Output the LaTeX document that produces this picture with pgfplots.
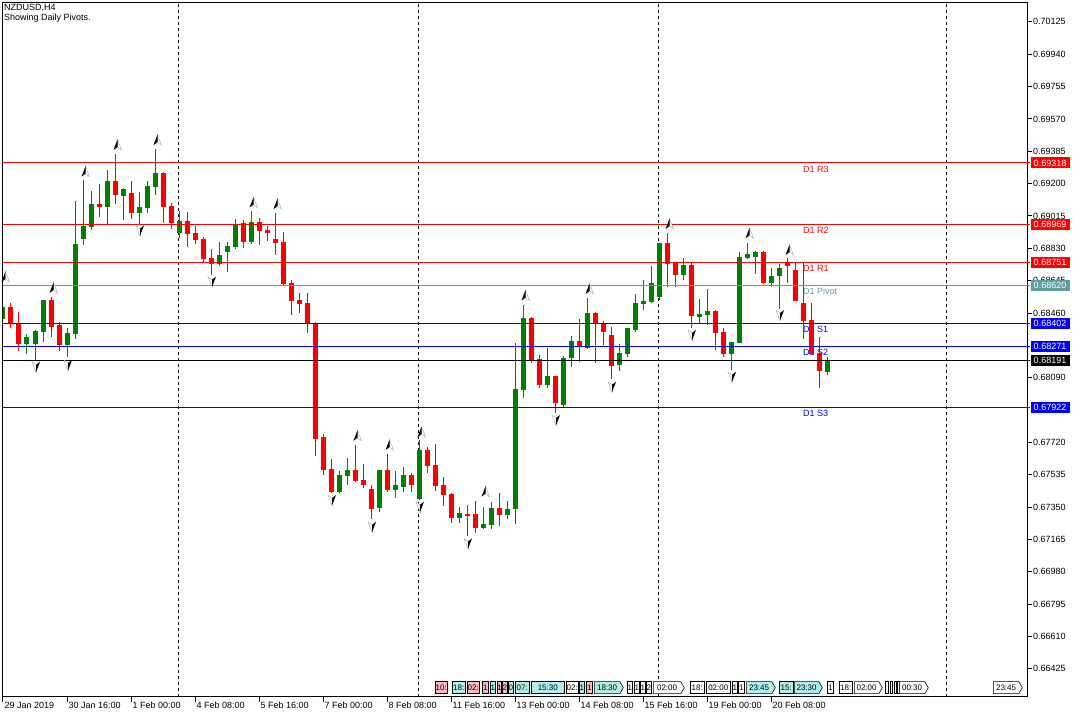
\documentclass[border=0pt]{standalone}
\usepackage{fontspec}
\setmainfont{Liberation Sans}
\usepackage{pgfplots}
\pgfplotsset{compat=1.18}
\usepackage{pgfplotstable}
\usetikzlibrary{shapes.symbols}

\definecolor{mtgreen}{RGB}{0,128,0}
\definecolor{mtred}{RGB}{255,0,0}
\definecolor{pivotc}{RGB}{95,158,160}
\definecolor{mtblue}{RGB}{0,0,255}
\definecolor{evpink}{RGB}{255,182,193}
\definecolor{evcyan}{RGB}{175,238,238}
\newcommand\mtfont{\fontsize{9}{10.5}\selectfont}

% fractal arrows
\pgfdeclareplotmark{fup}{%
  \pgfsetlinewidth{0.5pt}\pgfsetstrokecolor{gray!60}\pgfsetfillcolor{white}%
  \pgfpathmoveto{\pgfpoint{2.5pt}{5.5pt}}\pgfpathlineto{\pgfpoint{6.5pt}{-5pt}}%
  \pgfpathlineto{\pgfpoint{2.5pt}{-2pt}}\pgfpathclose\pgfusepath{fill,stroke}%
  \pgfsetfillcolor{black}%
  \pgfpathmoveto{\pgfpoint{2.5pt}{5.5pt}}\pgfpathlineto{\pgfpoint{-1.5pt}{-5pt}}%
  \pgfpathlineto{\pgfpoint{2.5pt}{-2pt}}\pgfpathclose\pgfusepath{fill}}
\pgfdeclareplotmark{fdown}{%
  \pgfsetlinewidth{0.5pt}\pgfsetstrokecolor{gray!60}\pgfsetfillcolor{white}%
  \pgfpathmoveto{\pgfpoint{1pt}{-5.5pt}}\pgfpathlineto{\pgfpoint{-3pt}{5pt}}%
  \pgfpathlineto{\pgfpoint{1pt}{2pt}}\pgfpathclose\pgfusepath{fill,stroke}%
  \pgfsetfillcolor{black}%
  \pgfpathmoveto{\pgfpoint{1pt}{-5.5pt}}\pgfpathlineto{\pgfpoint{5pt}{5pt}}%
  \pgfpathlineto{\pgfpoint{1pt}{2pt}}\pgfpathclose\pgfusepath{fill}}

% H4 bars, x = bar number
\pgfplotstableread{
x o h l c
0 0.68424 0.68505 0.68414 0.68496
3 0.68282 0.68340 0.68225 0.68324
4 0.68282 0.68362 0.68191 0.68357
5 0.68353 0.68536 0.68296 0.68534
8 0.68277 0.68372 0.68210 0.68344
9 0.68340 0.69100 0.68311 0.68854
10 0.68883 0.69220 0.68849 0.68959
11 0.68953 0.69158 0.68934 0.69083
13 0.69068 0.69278 0.68963 0.69215
15 0.69131 0.69176 0.68992 0.69169
17 0.69033 0.69154 0.68969 0.69064
18 0.69062 0.69215 0.69030 0.69186
19 0.69182 0.69398 0.69135 0.69262
22 0.68919 0.69043 0.68887 0.68986
27 0.68738 0.68864 0.68730 0.68791
28 0.68810 0.68864 0.68696 0.68843
29 0.68839 0.68997 0.68826 0.68969
31 0.68868 0.69045 0.68854 0.68982
42 0.67438 0.67556 0.67433 0.67533
43 0.67527 0.67629 0.67476 0.67562
47 0.67346 0.67565 0.67320 0.67562
49 0.67447 0.67556 0.67403 0.67476
50 0.67466 0.67577 0.67438 0.67533
52 0.67396 0.67733 0.67390 0.67676
57 0.67285 0.67348 0.67260 0.67314
60 0.67232 0.67348 0.67222 0.67251
61 0.67247 0.67377 0.67222 0.67343
63 0.67304 0.67384 0.67280 0.67337
64 0.67337 0.68286 0.67251 0.68025
65 0.68019 0.68505 0.67972 0.68433
68 0.68048 0.68258 0.68029 0.68099
70 0.67933 0.68214 0.67915 0.68201
71 0.68201 0.68328 0.68152 0.68299
73 0.68261 0.68547 0.68257 0.68458
77 0.68162 0.68281 0.68130 0.68233
78 0.68225 0.68376 0.68210 0.68372
79 0.68362 0.68568 0.68353 0.68519
80 0.68511 0.68648 0.68477 0.68530
81 0.68524 0.68730 0.68515 0.68633
82 0.68549 0.68863 0.68534 0.68858
85 0.68677 0.68776 0.68648 0.68734
87 0.68439 0.68540 0.68404 0.68452
88 0.68448 0.68595 0.68391 0.68471
91 0.68225 0.68297 0.68134 0.68296
92 0.68290 0.68810 0.68288 0.68782
93 0.68776 0.68862 0.68767 0.68797
94 0.68782 0.68813 0.68683 0.68810
96 0.68633 0.68715 0.68607 0.68671
97 0.68671 0.68740 0.68483 0.68719
103 0.68122 0.68210 0.68108 0.68191
}\upbars

\pgfplotstableread{
x o h l c
1 0.68496 0.68515 0.68372 0.68395
2 0.68401 0.68467 0.68244 0.68282
6 0.68534 0.68553 0.68324 0.68381
7 0.68391 0.68406 0.68244 0.68277
12 0.69083 0.69198 0.69007 0.69068
14 0.69215 0.69369 0.69083 0.69135
16 0.69148 0.69215 0.68997 0.69033
20 0.69262 0.69269 0.68976 0.69068
21 0.69072 0.69091 0.68938 0.68976
23 0.68986 0.69039 0.68839 0.68912
24 0.68919 0.68957 0.68854 0.68877
25 0.68883 0.68892 0.68747 0.68769
26 0.68773 0.68824 0.68677 0.68740
30 0.68974 0.68992 0.68831 0.68866
32 0.68982 0.69001 0.68849 0.68930
33 0.68934 0.68957 0.68873 0.68916
34 0.68883 0.69033 0.68791 0.68862
35 0.68868 0.68925 0.68620 0.68626
36 0.68630 0.68648 0.68448 0.68530
37 0.68534 0.68572 0.68461 0.68511
38 0.68519 0.68572 0.68344 0.68401
39 0.68401 0.68408 0.67643 0.67739
40 0.67749 0.67768 0.67533 0.67562
41 0.67567 0.67625 0.67428 0.67434
44 0.67562 0.67705 0.67496 0.67499
45 0.67504 0.67596 0.67457 0.67474
46 0.67453 0.67476 0.67281 0.67339
48 0.67562 0.67653 0.67438 0.67447
51 0.67533 0.67543 0.67438 0.67476
53 0.67676 0.67691 0.67543 0.67586
54 0.67590 0.67710 0.67443 0.67472
55 0.67476 0.67520 0.67357 0.67419
56 0.67424 0.67430 0.67260 0.67285
58 0.67310 0.67361 0.67184 0.67300
59 0.67310 0.67386 0.67203 0.67232
62 0.67343 0.67428 0.67243 0.67304
66 0.68433 0.68439 0.68172 0.68191
67 0.68197 0.68219 0.68032 0.68048
69 0.68099 0.68101 0.67889 0.67945
72 0.68299 0.68425 0.68181 0.68273
74 0.68461 0.68467 0.68175 0.68404
75 0.68401 0.68416 0.68277 0.68353
76 0.68334 0.68381 0.68080 0.68158
83 0.68858 0.68919 0.68607 0.68740
84 0.68744 0.68753 0.68607 0.68677
86 0.68734 0.68744 0.68376 0.68442
89 0.68471 0.68477 0.68248 0.68347
90 0.68353 0.68372 0.68210 0.68225
95 0.68810 0.68813 0.68628 0.68630
98 0.68746 0.68774 0.68631 0.68729
99 0.68706 0.68753 0.68528 0.68530
100 0.68519 0.68753 0.68309 0.68416
101 0.68420 0.68515 0.68222 0.68225
102 0.68229 0.68321 0.68032 0.68130
}\downbars

\begin{document}
\begin{tikzpicture}
\useasboundingbox (0,0) rectangle (1080pt,720pt);
\begin{axis}[
  at={(3pt,23pt)}, anchor=south west,
  scale only axis, width=1024pt, height=694pt,
  xmin=0, xmax=128, ymin=0.66264, ymax=0.70233,
  axis line style={line width=1pt},
  every tick/.style={black, line width=1pt},
  tick align=outside, major tick length=5pt,
  xtick pos=bottom, ytick pos=right, yticklabel pos=right,
  xtick={0,8,...,96},
  xticklabels={29 Jan 2019,30 Jan 16:00,1 Feb 00:00,4 Feb 08:00,5 Feb 16:00,
    7 Feb 00:00,8 Feb 08:00,11 Feb 16:00,13 Feb 00:00,14 Feb 08:00,
    15 Feb 16:00,19 Feb 00:00,20 Feb 08:00},
  xticklabel style={font=\mtfont, anchor=north west, inner sep=0pt, xshift=1.5pt},
  ytick={0.66425,0.66610,0.66795,0.66980,0.67165,0.67350,0.67535,0.67720,
    0.68090,0.68460,0.68645,0.68830,0.69015,0.69200,
    0.69385,0.69570,0.69755,0.69940,0.70125},
  scaled y ticks=false,
  yticklabel style={font=\mtfont, inner sep=1pt,
    /pgf/number format/.cd, fixed, fixed zerofill, precision=5, assume math mode=true},
  extra x ticks={21.9,51.9,81.9,117.9},
  extra x tick labels={},
  extra x tick style={major tick length=0pt, grid=major,
    major grid style={black, line width=1pt, dash pattern=on 3pt off 3pt}},
]
% level captions
\node[anchor=base west, inner sep=0pt, font=\mtfont, text=mtred, yshift=-9.5pt] at (axis cs:100,0.69318) {D1 R3};
\node[anchor=base west, inner sep=0pt, font=\mtfont, text=mtred, yshift=-9.5pt] at (axis cs:100,0.68969) {D1 R2};
\node[anchor=base west, inner sep=0pt, font=\mtfont, text=mtred, yshift=-9.5pt] at (axis cs:100,0.68751) {D1 R1};
\node[anchor=base west, inner sep=0pt, font=\mtfont, text=pivotc, yshift=-9.5pt] at (axis cs:100,0.68620) {D1 Pivot};
\node[anchor=base west, inner sep=0pt, font=\mtfont, text=mtblue, yshift=-9.5pt] at (axis cs:100,0.68402) {D1 S1};
\node[anchor=base west, inner sep=0pt, font=\mtfont, text=mtblue, yshift=-9.5pt] at (axis cs:100,0.68271) {D1 S2};
\node[anchor=base west, inner sep=0pt, font=\mtfont, text=mtblue, yshift=-9.5pt] at (axis cs:100,0.67922) {D1 S3};

% wicks
\addplot[draw=none, mark=none, error bars/.cd, y dir=plus, y explicit, error mark=none,
  error bar style={draw=mtgreen, line width=1pt}]
  table[x=x, y=l, y error expr=\thisrow{h}-\thisrow{l}] {\upbars};
\addplot[draw=none, mark=none, error bars/.cd, y dir=plus, y explicit, error mark=none,
  error bar style={draw=mtred, line width=1pt}]
  table[x=x, y=l, y error expr=\thisrow{h}-\thisrow{l}] {\downbars};
% bodies
\addplot[draw=none, mark=none, error bars/.cd, y dir=plus, y explicit, error mark=none,
  error bar style={draw=mtgreen, line width=5pt}]
  table[x=x, y=o, y error expr=\thisrow{c}-\thisrow{o}] {\upbars};
\addplot[draw=none, mark=none, error bars/.cd, y dir=plus, y explicit, error mark=none,
  error bar style={draw=mtred, line width=5pt}]
  table[x=x, y=c, y error expr=\thisrow{o}-\thisrow{c}] {\downbars};

% daily pivot levels and last price
\addplot[mtred, line width=1pt] coordinates {(-2,0.69318) (130,0.69318)};
\addplot[mtred, line width=1pt] coordinates {(-2,0.68969) (130,0.68969)};
\addplot[mtred, line width=1pt] coordinates {(-2,0.68751) (130,0.68751)};
\addplot[pivotc, line width=1pt] coordinates {(-2,0.68620) (130,0.68620)};
\addplot[mtblue, line width=1pt] coordinates {(-2,0.68402) (130,0.68402)};
\addplot[mtblue, line width=1pt] coordinates {(-2,0.68271) (130,0.68271)};
\addplot[black, line width=1pt] coordinates {(-2,0.68191) (130,0.68191)};
\addplot[mtblue, line width=1pt] coordinates {(-2,0.67922) (130,0.67922)};

% fractals
\addplot[only marks, mark=fup] coordinates {(0,0.68666) (6,0.68603) (10,0.69268)
  (14,0.69421) (19,0.69449) (31,0.69091) (34,0.69083) (44,0.67758) (48,0.67705)
  (52,0.67779) (60,0.67438) (65,0.68560) (73,0.68597) (83,0.68969) (93,0.68916)
  (98,0.68820)};
\addplot[only marks, mark=fdown] coordinates {(4,0.68152) (8,0.68162) (17,0.68932)
  (26,0.68639) (41,0.67390) (46,0.67237) (52,0.67352) (58,0.67142) (69,0.67848)
  (76,0.68038) (86,0.68334) (91,0.68095) (97,0.68448)};

\coordinate (r3) at (axis cs:128,0.69318);
\coordinate (r2) at (axis cs:128,0.68969);
\coordinate (r1) at (axis cs:128,0.68751);
\coordinate (pp) at (axis cs:128,0.68620);
\coordinate (s1) at (axis cs:128,0.68402);
\coordinate (s2) at (axis cs:128,0.68271);
\coordinate (bid) at (axis cs:128,0.68191);
\coordinate (s3) at (axis cs:128,0.67922);
\end{axis}

% price boxes on the scale
\tikzset{pbox/.style={anchor=west, text=white, inner sep=0pt, minimum height=11pt,
  minimum width=39pt, font=\mtfont}}
\draw[mtred, line width=1pt] (r3) -- ++(3pt,0) node[pbox, fill=mtred] {0.69318};
\draw[mtred, line width=1pt] (r2) -- ++(3pt,0) node[pbox, fill=mtred] {0.68969};
\draw[mtred, line width=1pt] (r1) -- ++(3pt,0) node[pbox, fill=mtred] {0.68751};
\draw[pivotc, line width=1pt] (pp) -- ++(3pt,0) node[pbox, fill=pivotc] {0.68620};
\draw[mtblue, line width=1pt] (s1) -- ++(3pt,0) node[pbox, fill=mtblue] {0.68402};
\draw[mtblue, line width=1pt] (s2) -- ++(3pt,0) node[pbox, fill=mtblue] {0.68271};
\draw[black, line width=1pt] (bid) -- ++(3pt,0) node[pbox, fill=black] {0.68191};
\draw[mtblue, line width=1pt] (s3) -- ++(3pt,0) node[pbox, fill=mtblue] {0.67922};

% header
\node[anchor=north west, inner sep=0pt, align=left, font=\mtfont] at (4pt,716pt)
  {NZDUSD,H4\\Showing Daily Pivots.};

% calendar event markers along the bottom
\foreach \a/\b/\t/\c in {435/447/10:/evpink, 452/465/18:/evcyan, 467/479/02:/evpink,
  482/488/1/evpink, 490/495/1/evcyan, 497/501/1/evpink, 502/507/2/evpink,
  508/513/0/evcyan, 515/529/07:/evcyan, 531/564/15:30/evcyan, 566/578/02:/white,
  579/584/1/evcyan, 586/592/1/evpink, 627/632/1/white, 634/639/1/white,
  640/645/1/white, 646/651/2/white, 690/704/18:/white, 706/730/02:00/white,
  732/737/1/white, 738/744/1/white, 779/793/15:/evcyan, 827/833/1/white,
  839/852/18:/white, 885/888//white, 890/892//white, 894/896//white, 897/899//white}
  \node[draw=black, line width=0.6pt, fill=\c, anchor=south west, inner sep=0pt,
    minimum width={\b pt-\a pt}, minimum height=12pt, font=\fontsize{8}{8}\selectfont]
    at (\a pt,26pt) {\t};
\foreach \a/\b/\t/\c in {594/623/18:30/evcyan, 653/684/02:00/white, 746/775/23:45/evcyan,
  794/822/23:30/evcyan, 854/882/02:00/white, 899/928/00:30/white, 993/1022/23:45/white}
  \node[draw=black, line width=0.6pt, fill=\c, anchor=south west, inner sep=0pt,
    shape=signal, signal to=east, signal pointer angle=120,
    minimum width={\b pt-\a pt}, minimum height=12pt, font=\fontsize{8}{8}\selectfont]
    at (\a pt,26pt) {\t};
\end{tikzpicture}
\end{document}
